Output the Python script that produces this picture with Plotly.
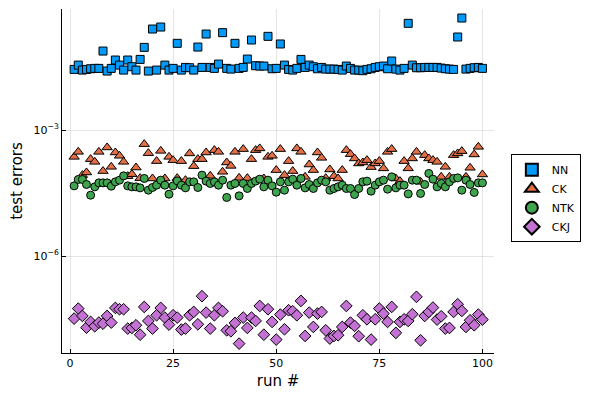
import plotly.graph_objects as go

runs = list(range(1, 101))

nn_errors = [
    0.0278, 0.0352, 0.0268, 0.0278, 0.0288, 0.0294, 0.0294, 0.076, 0.0254, 0.0294,
    0.0465, 0.0352, 0.0268, 0.0465, 0.0322, 0.0268, 0.0481, 0.0929, 0.0254, 0.254,
    0.0268, 0.283, 0.0352, 0.0268, 0.0294, 0.116, 0.0268, 0.0310, 0.0305, 0.0268,
    0.0946, 0.0310, 0.193, 0.0310, 0.0294, 0.0372, 0.208, 0.0294, 0.0283, 0.116,
    0.0294, 0.0310, 0.0490, 0.139, 0.0340, 0.0334, 0.0334, 0.170, 0.0288, 0.0294,
    0.112, 0.0352, 0.0278, 0.0268, 0.0294, 0.0481, 0.0310, 0.0352, 0.0322, 0.0288,
    0.0310, 0.0283, 0.0283, 0.0283, 0.0278, 0.0268, 0.0334, 0.0294, 0.0268, 0.0268,
    0.0259, 0.0278, 0.0288, 0.0310, 0.0322, 0.0334, 0.0288, 0.0440, 0.0283, 0.0268,
    0.0294, 0.347, 0.0352, 0.0305, 0.0305, 0.0310, 0.0310, 0.0310, 0.0310, 0.0299,
    0.0288, 0.0283, 0.0278, 0.164, 0.464, 0.0283, 0.0294, 0.0305, 0.0310, 0.0294,
]

ck_errors = [
    2.31e-4, 3.04e-4, 8.49e-5, 9.84e-5, 2.04e-4, 1.76e-4, 3.04e-4, 1.06e-4, 3.87e-4, 1.34e-4,
    2.94e-4, 2.45e-4, 1.76e-4, 8.03e-5, 8.96e-5, 1.29e-4, 7.20e-5, 4.64e-4, 2.83e-4, 7.08e-5,
    1.83e-4, 3.21e-4, 7.08e-5, 2.31e-4, 1.93e-4, 7.20e-5, 1.83e-4, 6.45e-5, 2.79e-4, 1.39e-4,
    2.04e-4, 2.04e-4, 2.94e-4, 8.16e-5, 3.34e-4, 3.04e-4, 1.02e-4, 1.70e-4, 1.41e-4, 3.04e-4,
    7.31e-5, 3.53e-4, 7.20e-5, 2.04e-4, 3.34e-4, 3.67e-4, 7.08e-5, 2.31e-4, 2.45e-4, 1.12e-4,
    3.53e-4, 8.49e-5, 1.83e-4, 1.06e-4, 3.67e-4, 3.04e-4, 7.73e-5, 1.52e-4, 1.12e-4, 2.94e-4,
    2.19e-4, 7.20e-5, 1.16e-4, 8.03e-5, 7.08e-5, 1.12e-4, 3.34e-4, 2.68e-4, 2.12e-4, 1.61e-4,
    1.70e-4, 1.93e-4, 1.32e-4, 1.61e-4, 1.83e-4, 1.23e-4, 3.04e-4, 3.53e-4, 7.08e-5, 6.11e-5,
    1.83e-4, 1.23e-4, 2.12e-4, 3.04e-4, 5.88e-5, 2.54e-4, 2.12e-4, 1.93e-4, 1.76e-4, 7.73e-5,
    1.34e-4, 7.73e-5, 2.54e-4, 2.79e-4, 3.16e-4, 7.73e-5, 1.27e-4, 2.64e-4, 4.00e-4, 8.81e-5,
]

ntk_errors = [
    4.72e-5, 6.70e-5, 6.70e-5, 5.09e-5, 2.83e-5, 4.47e-5, 5.56e-5, 5.56e-5, 5.56e-5, 4.64e-5,
    5.88e-5, 6.45e-5, 8.16e-5, 4.72e-5, 4.47e-5, 4.47e-5, 4.23e-5, 7.08e-5, 3.73e-5, 4.32e-5,
    4.90e-5, 6.45e-5, 4.90e-5, 2.99e-5, 4.72e-5, 6.21e-5, 4.90e-5, 4.23e-5, 5.88e-5, 5.88e-5,
    4.32e-5, 8.49e-5, 6.11e-5, 5.38e-5, 5.88e-5, 4.90e-5, 6.45e-5, 2.50e-5, 4.90e-5, 5.38e-5,
    2.73e-5, 5.38e-5, 4.09e-5, 5.38e-5, 6.11e-5, 6.81e-5, 4.47e-5, 6.45e-5, 4.72e-5, 3.34e-5,
    5.88e-5, 3.73e-5, 5.88e-5, 6.81e-5, 4.90e-5, 7.08e-5, 4.23e-5, 5.09e-5, 4.09e-5, 5.56e-5,
    6.45e-5, 5.88e-5, 3.73e-5, 4.09e-5, 4.47e-5, 4.90e-5, 4.09e-5, 4.09e-5, 2.94e-5, 4.09e-5,
    5.88e-5, 6.11e-5, 3.53e-5, 4.90e-5, 5.88e-5, 6.45e-5, 3.94e-5, 7.73e-5, 4.23e-5, 4.90e-5,
    4.90e-5, 3.04e-5, 6.45e-5, 6.45e-5, 3.11e-5, 5.09e-5, 9.31e-5, 6.81e-5, 4.47e-5, 5.38e-5,
    4.47e-5, 5.88e-5, 7.08e-5, 7.31e-5, 3.73e-5, 6.45e-5, 5.09e-5, 3.29e-5, 5.56e-5, 5.56e-5,
]

ckj_errors = [
    3.28e-8, 5.68e-8, 3.80e-8, 2.00e-8, 2.74e-8, 2.16e-8, 2.64e-8, 2.49e-8, 3.80e-8, 2.64e-8,
    5.89e-8, 5.48e-8, 5.48e-8, 1.90e-8, 1.97e-8, 2.28e-8, 1.36e-8, 6.22e-8, 2.89e-8, 1.90e-8,
    3.94e-8, 5.89e-8, 3.47e-8, 2.36e-8, 3.94e-8, 3.47e-8, 1.80e-8, 1.90e-8, 3.94e-8, 4.73e-8,
    2.40e-8, 1.12e-7, 4.56e-8, 1.90e-8, 3.94e-8, 5.89e-8, 4.91e-8, 1.73e-8, 1.64e-8, 2.59e-8,
    8.34e-9, 3.47e-8, 1.97e-8, 3.47e-8, 2.89e-8, 6.57e-8, 1.36e-8, 5.48e-8, 2.74e-8, 1.04e-8,
    4.09e-8, 1.83e-8, 5.19e-8, 4.91e-8, 3.94e-8, 8.65e-8, 1.27e-8, 4.56e-8, 2.08e-8, 4.32e-8,
    4.73e-8, 1.73e-8, 1.10e-8, 1.27e-8, 1.32e-8, 2.08e-8, 6.57e-8, 2.64e-8, 2.20e-8, 1.25e-8,
    3.94e-8, 3.16e-8, 1.04e-8, 3.16e-8, 5.68e-8, 4.32e-8, 2.74e-8, 6.22e-8, 1.50e-8, 2.74e-8,
    3.16e-8, 2.89e-8, 4.17e-8, 1.08e-7, 1.00e-8, 3.80e-8, 4.73e-8, 6.00e-8, 3.11e-8, 3.73e-8,
    1.90e-8, 1.97e-8, 4.73e-8, 7.20e-8, 5.00e-8, 2.08e-8, 3.00e-8, 2.28e-8, 4.09e-8, 3.11e-8,
]

series = [
    ("NN", nn_errors, "#009AFA", "square", 8),
    ("CK", ck_errors, "#E36F47", "triangle-up", 9),
    ("NTK", ntk_errors, "#3EA44E", "circle", 8),
    ("CKJ", ckj_errors, "#C371D2", "diamond", 9),
]

fig = go.Figure()
for name, values, color, symbol, size in series:
    fig.add_trace(
        go.Scatter(
            x=runs,
            y=values,
            mode="markers",
            name=name,
            marker=dict(
                color=color,
                symbol=symbol,
                size=size,
                line=dict(color="black", width=1),
            ),
        )
    )

# the page body adds an 8px offset, so the figure is 8px smaller
font = "DejaVu Sans, sans-serif"
fig.update_layout(
    width=587,
    height=385,
    margin=dict(l=54, r=101, t=1, b=40, autoexpand=False),
    paper_bgcolor="white",
    plot_bgcolor="white",
    font=dict(family=font, color="black", size=11),
    showlegend=True,
    legend=dict(
        x=1.039,
        y=0.578,
        xanchor="left",
        yanchor="top",
        bordercolor="black",
        borderwidth=1,
        font=dict(size=11),
        tracegroupgap=0,
        itemsizing="constant",
        itemwidth=30,
    ),
    xaxis=dict(
        title=dict(text="run #", font=dict(size=15), standoff=6),
        automargin=False,
        range=[-1.94, 102.8],
        tickvals=[0, 25, 50, 75, 100],
        ticks="inside",
        ticklen=4,
        tickcolor="black",
        showline=True,
        linecolor="black",
        linewidth=1,
        showgrid=True,
        gridcolor="rgba(0,0,0,0.1)",
        zeroline=False,
        mirror=False,
    ),
    yaxis=dict(
        title=dict(text="test errors", font=dict(size=15), standoff=17),
        automargin=False,
        type="log",
        range=[-8.302, -0.119],
        tickvals=[1e-3, 1e-6],
        ticktext=["10<sup>−3</sup>", "10<sup>−6</sup>"],
        ticks="inside",
        ticklen=4,
        tickcolor="black",
        showline=True,
        linecolor="black",
        linewidth=1,
        showgrid=True,
        gridcolor="rgba(0,0,0,0.1)",
        zeroline=False,
    ),
)

fig.write_html("out.html")
